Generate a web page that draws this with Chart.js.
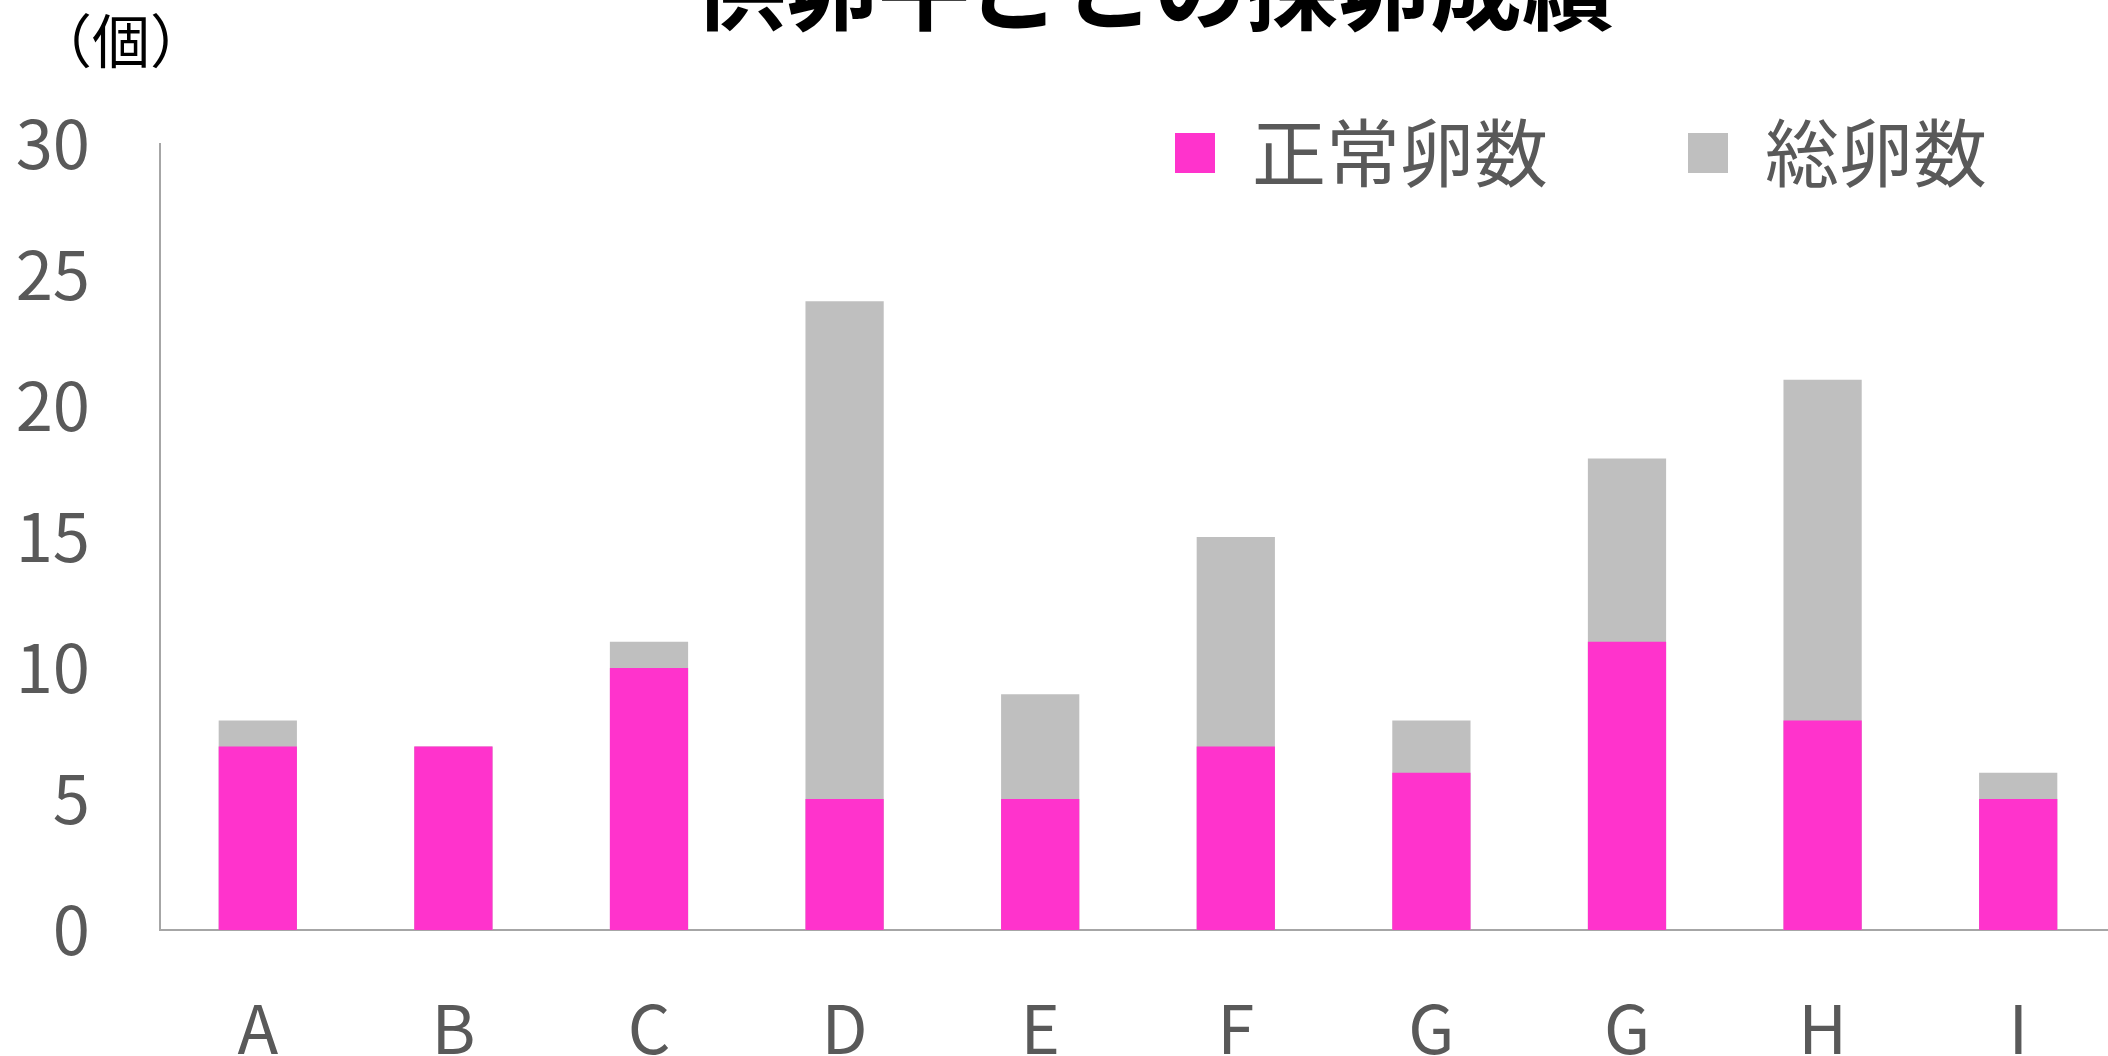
<!DOCTYPE html>
<html lang="ja">
<head>
<meta charset="utf-8">
<script src="https://cdn.jsdelivr.net/npm/chart.js@4.4.1/dist/chart.umd.min.js"></script>
<style>
  html, body { margin: 0; padding: 0; background: #fff; overflow: hidden; }
  #wrap { width: 2116px; height: 1056px; position: relative; }
</style>
</head>
<body>
<div id="wrap"><canvas id="chart"></canvas></div>
<script>
const categories = ['A', 'B', 'C', 'D', 'E', 'F', 'G', 'G', 'H', 'I'];
const normalEggs = [7, 7, 10, 5, 5, 7, 6, 11, 8, 5];
const totalEggs = [8, 7, 11, 24, 9, 15, 8, 18, 21, 6];
const yTicks = [0, 5, 10, 15, 20, 25, 30];

const FONT = '"Noto Sans CJK JP", "Noto Sans", sans-serif';
Chart.defaults.font.family = FONT;

// legend sits over the plot and title is a bit right of centre, like the original
const placeBoxes = {
    id: 'placeBoxes',
    afterLayout(chart) {
        const lg = chart.legend;
        if (lg) {
            const pad = lg.options.labels.padding;
            lg.left = 1175 - pad;
            lg.right = lg.left + 3000;
            lg.top = 116 - pad;
            lg.bottom = lg.top + 400;
        }
        const tb = chart.titleBlock;
        if (tb) {
            tb.left += 16;
            tb.right += 16;
        }
    }
};

// unit label top-left
const unitLabel = {
    id: 'unitLabel',
    afterDraw(chart) {
        const ctx = chart.ctx;
        ctx.save();
        ctx.font = '58px ' + FONT;
        ctx.fillStyle = '#000';
        ctx.textAlign = 'left';
        ctx.textBaseline = 'middle';
        ctx.fillText('（個）', 34, 41);
        ctx.restore();
    }
};

new Chart(document.getElementById('chart'), {
    type: 'bar',
    data: {
        labels: categories,
        datasets: [{
            label: '正常卵数',
            data: normalEggs,
            backgroundColor: '#FF33CC',
            barPercentage: 0.4,
            categoryPercentage: 1.0
        }, {
            label: '総卵数',
            data: totalEggs,
            backgroundColor: '#BFBFBF',
            barPercentage: 0.4,
            categoryPercentage: 1.0
        }]
    },
    options: {
        responsive: true,
        maintainAspectRatio: false,
        animation: false,
        layout: { padding: 0 },
        plugins: {
            title: {
                display: true,
                text: '供卵牛ごとの採卵成績',
                color: '#000',
                fullSize: false,
                font: { size: 92, weight: 'bold' },
                padding: { top: -67, bottom: 99.6 }
            },
            legend: {
                position: 'top',
                align: 'start',
                maxHeight: 1,
                labels: {
                    boxWidth: 40,
                    boxHeight: 40,
                    padding: 140,
                    color: '#595959',
                    font: { size: 74 }
                }
            },
            tooltip: { enabled: false }
        },
        scales: {
            x: {
                stacked: true,
                grid: { display: false, drawTicks: false },
                border: { display: true, color: '#A6A6A6', width: 2 },
                ticks: { color: '#595959', font: { size: 67 }, padding: 58, maxRotation: 0 },
                afterFit(s) { s.height = 126; }
            },
            y: {
                stacked: false,
                min: 0,
                max: 30,
                grid: { display: false, drawTicks: false },
                border: { display: true, color: '#A6A6A6', width: 2 },
                afterBuildTicks(s) { s.ticks = yTicks.map(v => ({ value: v })); },
                ticks: { color: '#595959', font: { size: 67 }, padding: 70 },
                afterFit(s) { s.width = 160; }
            }
        }
    },
    plugins: [placeBoxes, unitLabel]
});
</script>
</body>
</html>
